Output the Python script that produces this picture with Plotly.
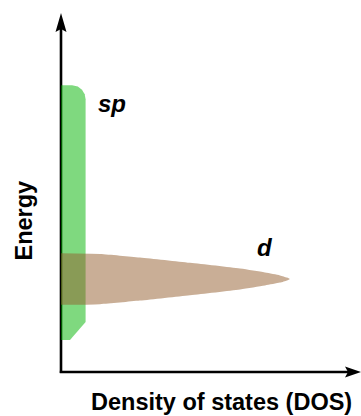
import plotly.graph_objects as go

# ---- data (arbitrary units: DOS on x, energy on y) ----
sp_energy = [8.9, 13.9, 76.0, 77.4, 78.6, 79.5, 79.9]
sp_dos = [3.0, 8.2, 8.2, 7.9, 7.0, 5.6, 3.7]

d_energy = [18.7, 18.9, 19.9, 21.4, 23.0, 24.1, 24.9, 25.5, 25.9,
            26.3, 26.9, 27.7, 28.8, 30.4, 31.9, 32.9, 33.1]
d_dos = [0, 13, 26.3, 43, 59.7, 68, 73, 75.3, 76.3,
         75.3, 73, 68, 59.7, 43, 26.3, 13, 0]

band_labels = ["sp", "d"]
label_pos_dos = [17, 68]
label_pos_energy = [74.7, 34.8]

x_title = "Density of states (DOS)"
y_title = "Energy"

FONT = "Liberation Sans, Arial, sans-serif"

fig = go.Figure()

fig.add_trace(go.Scatter(
    x=sp_dos, y=sp_energy, mode="lines", fill="tozerox",
    line=dict(width=0, color="rgba(0,180,0,0)"),
    fillcolor="rgba(0,180,0,0.5)", hoverinfo="skip", showlegend=False))

fig.add_trace(go.Scatter(
    x=d_dos, y=d_energy, mode="lines", fill="tozerox",
    line=dict(width=0, color="rgba(147,93,45,0)", shape="spline", smoothing=0.6),
    fillcolor="rgba(147,93,45,0.5)", hoverinfo="skip", showlegend=False))

for lab, xx, yy in zip(band_labels, label_pos_dos, label_pos_energy):
    fig.add_annotation(x=xx, y=yy, text=f"<b><i>{lab}</i></b>", showarrow=False,
                       font=dict(family=FONT, size=24, color="black"),
                       xanchor="center", yanchor="middle")

# axis titles (paper coordinates, outside the plot area)
fig.add_annotation(xref="paper", yref="paper", x=(23.5 - 61) / 300, y=(372 - 221) / 359,
                   text=f"<b>{y_title}</b>", textangle=-90,
                   showarrow=False, font=dict(family=FONT, size=23.5, color="black"),
                   xanchor="center", yanchor="middle")
fig.add_annotation(xref="paper", yref="paper", x=(221 - 61) / 300, y=(372 - 402) / 359,
                   text=f"<b>{x_title}</b>",
                   showarrow=False, font=dict(family=FONT, size=23.5, color="black"),
                   xanchor="center", yanchor="middle")

# axis lines (below the bands) and arrowheads
fig.add_shape(type="line", xref="paper", yref="paper", x0=0, x1=0, y0=-0.003, y1=0.96,
              layer="below", line=dict(color="black", width=2.6))
fig.add_shape(type="line", xref="paper", yref="paper", x0=-0.004, x1=0.96, y0=0, y1=0,
              layer="below", line=dict(color="black", width=2.6))
fig.add_shape(type="path", xref="paper", yref="paper", xsizemode="pixel", ysizemode="pixel",
              xanchor=0, yanchor=1, path="M0,0 L5.5,-19 L0,-16 L-5.5,-19 Z",
              fillcolor="black", line=dict(width=0), layer="above")
fig.add_shape(type="path", xref="paper", yref="paper", xsizemode="pixel", ysizemode="pixel",
              xanchor=1, yanchor=0, path="M0,0 L-16,5.5 L-13,0 L-16,-5.5 Z",
              fillcolor="black", line=dict(width=0), layer="above")

fig.update_layout(
    width=361, height=416,
    margin=dict(l=61, r=0, t=13, b=44),
    paper_bgcolor="white", plot_bgcolor="white",
    xaxis=dict(range=[0, 100], visible=False, fixedrange=True),
    yaxis=dict(range=[0, 100], visible=False, fixedrange=True),
    showlegend=False,
)

fig.write_html("out.html", config={"displayModeBar": False})
